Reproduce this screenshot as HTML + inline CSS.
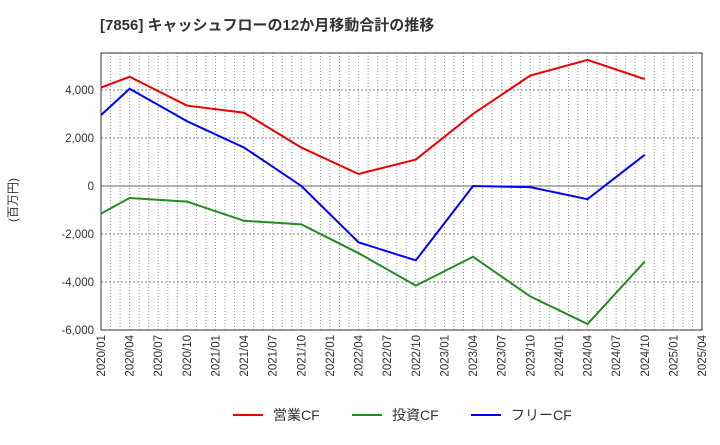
<!DOCTYPE html>
<html><head><meta charset="utf-8"><style>
body{margin:0;background:#fff;font-family:"Liberation Sans","Noto Sans CJK JP",sans-serif}
</style></head><body>
<svg width="720" height="440" xmlns="http://www.w3.org/2000/svg" font-family="Liberation Sans, Noto Sans CJK JP, sans-serif">
<text x="100" y="30" font-size="15" font-weight="bold" fill="#333">[7856]  キャッシュフローの12か月移動合計の推移</text>
<text transform="translate(17,200) rotate(-90)" font-size="12" fill="#333" text-anchor="middle">(百万円)</text>
<g id="grid"></g><g id="axes"></g><g id="series"></g><g id="legend"></g>
</svg>
<script>
const categories=["2020/01","2020/04","2020/07","2020/10","2021/01","2021/04","2021/07","2021/10","2022/01","2022/04","2022/07","2022/10","2023/01","2023/04","2023/07","2023/10","2024/01","2024/04","2024/07","2024/10","2025/01","2025/04"];
const dataQuarters=[0,1,3,5,7,9,11,13,15,17,19];
const operatingCF=[4100,4550,3350,3050,1600,500,1100,3000,4600,5250,4450];
const investingCF=[-1150,-500,-650,-1450,-1600,-2800,-4150,-2950,-4600,-5750,-3150];
const freeCF=[2950,4050,2700,1600,0,-2350,-3100,0,-50,-550,1300];
const yTicks=[-6000,-4000,-2000,0,2000,4000];
const NS="http://www.w3.org/2000/svg";
const L=101,R=702,T=53,B=330,vMin=-6000,vMax=5540;
const xS=i=>L+(R-L)*i/21;
const yS=v=>B-(v-vMin)/(vMax-vMin)*(B-T);
function mk(t,a,p){const e=document.createElementNS(NS,t);for(const k in a)e.setAttribute(k,a[k]);p.appendChild(e);return e;}
const grid=document.getElementById('grid'),axes=document.getElementById('axes'),ser=document.getElementById('series'),leg=document.getElementById('legend');
for(let m=1;m<63;m++){const x=L+(R-L)*m/63;
const g=mk('line',{x1:x,x2:x,y1:T,y2:B,stroke:'#999','stroke-dasharray':'1,2'},grid);

}
yTicks.forEach(v=>{const y=yS(v);
if(v!==vMin){const g=mk('line',{x1:L,x2:R,y1:y,y2:y,stroke:v===0?'#666':'#888','stroke-dasharray':v===0?'':'2,2'},grid);

}
const t=mk('text',{x:L-7,y:y+4,'text-anchor':'end','font-size':11.5,fill:'#333'},axes);t.textContent=v.toLocaleString('en-US');

});
const fr=mk('rect',{x:L,y:T,width:R-L,height:B-T,fill:'none',stroke:'#333'},axes);


categories.forEach((c,i)=>{const x=xS(i);
const t=mk('text',{transform:`translate(${x+4},${B+5}) rotate(-90)`,'text-anchor':'end','font-size':11.5,fill:'#333'},axes);t.textContent=c;

});
[[operatingCF,'#e00','operating-cf-line','営業CF'],[investingCF,'#228b22','investing-cf-line','投資CF'],[freeCF,'#00f','free-cf-line','フリーCF']].forEach(([d,c,n,lab],k)=>{
const p=mk('polyline',{points:d.map((v,i)=>xS(dataQuarters[i])+','+yS(v)).join(' '),fill:'none',stroke:c,'stroke-width':2},ser);


const lx=233+k*119;
const ll=mk('line',{x1:lx,x2:lx+30,y1:415,y2:415,stroke:c,'stroke-width':2},leg);


const lt=mk('text',{x:lx+40,y:420,'font-size':14,fill:'#333'},leg);lt.textContent=lab;

});
</script>
</body></html>
